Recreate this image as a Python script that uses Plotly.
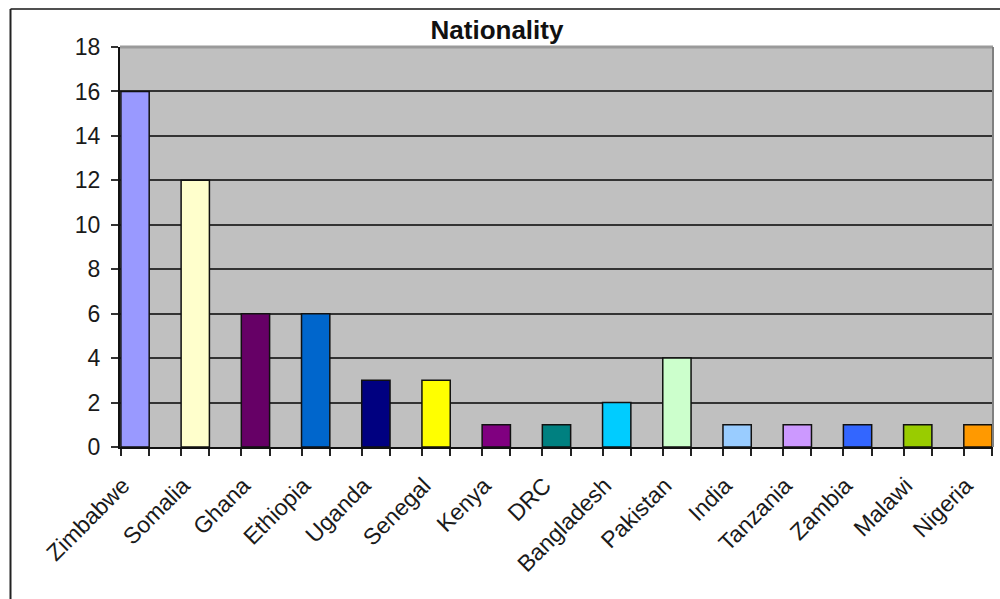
import plotly.graph_objects as go

categories = ["Zimbabwe", "Somalia", "Ghana", "Ethiopia", "Uganda", "Senegal", "Kenya", "DRC",
              "Bangladesh", "Pakistan", "India", "Tanzania", "Zambia", "Malawi", "Nigeria"]
counts = [16, 12, 6, 6, 3, 3, 1, 1, 2, 4, 1, 1, 1, 1, 1]
bar_colors = ["#9999FF", "#FFFFCC", "#660066", "#0066CC", "#000080", "#FFFF00", "#800080", "#008080",
              "#00CCFF", "#CCFFCC", "#99CCFF", "#CC99FF", "#3366FF", "#99CC00", "#FF9900"]
y_ticks = [0, 2, 4, 6, 8, 10, 12, 14, 16, 18]

BAR_W = 0.47
LABEL_SHIFT = -0.2
positions = list(range(len(categories)))
edges = []
for p in positions:
    edges += [p - BAR_W / 2, p + BAR_W / 2]

fig = go.Figure(go.Bar(
    x=positions, y=counts, width=BAR_W,
    marker=dict(color=bar_colors, line=dict(color="#111111", width=1.5)),
))

W, H = 1000, 599
L, R, T, B = 120, 7, 47, 152
pw, ph = W - L - R, H - T - B

def px_x(x):
    return (x - L) / pw

def px_y(y):
    return (H - B - y) / ph

fig.update_layout(
    width=W, height=H,
    margin=dict(l=L, r=R, t=T, b=B),
    paper_bgcolor="white", plot_bgcolor="#C0C0C0",
    showlegend=False,
    title=dict(text="<b>Nationality</b>", x=0.497, xanchor="center", y=1 - 30 / H, yanchor="middle",
               font=dict(family="Arial, Liberation Sans", size=26, color="#111111")),
    xaxis=dict(
        range=[-0.25, len(categories) - 1 + 0.25],
        tickmode="array", tickvals=[p + LABEL_SHIFT for p in positions], ticktext=categories,
        tickangle=-45, ticks="", showgrid=False, zeroline=False,
        ticklabelstandoff=14,
        tickfont=dict(family="Arial, Liberation Sans", size=23, color="#1a1a1a"),
        showline=True, linecolor="#111111", linewidth=2,
        minor=dict(tickmode="array", tickvals=edges, ticks="outside", ticklen=7,
                   tickcolor="#222222", tickwidth=2, showgrid=False),
    ),
    yaxis=dict(
        range=[0, 18], tickmode="array", tickvals=y_ticks,
        ticks="outside", ticklen=7, tickcolor="#333333", tickwidth=2,
        ticklabelstandoff=6,
        showgrid=True, gridcolor="#333333", gridwidth=1.5, zeroline=False,
        showline=True, linecolor="#111111", linewidth=2,
        tickfont=dict(family="Arial, Liberation Sans", size=23, color="#1a1a1a"),
    ),
    shapes=[
        dict(type="line", xref="paper", yref="paper", x0=0, x1=1, y0=1, y1=1,
             line=dict(color="#9a9a9a", width=3)),
        dict(type="line", xref="paper", yref="paper", x0=1, x1=1, y0=0, y1=1,
             line=dict(color="#808080", width=2)),
        dict(type="line", xref="paper", yref="paper", x0=px_x(10.5), x1=px_x(1010),
             y0=px_y(9), y1=px_y(9), line=dict(color="#505050", width=2)),
        dict(type="line", xref="paper", yref="paper", x0=px_x(10.5), x1=px_x(10.5),
             y0=px_y(9), y1=px_y(620), line=dict(color="#222222", width=2)),
    ],
)

fig.write_html("out.html")
